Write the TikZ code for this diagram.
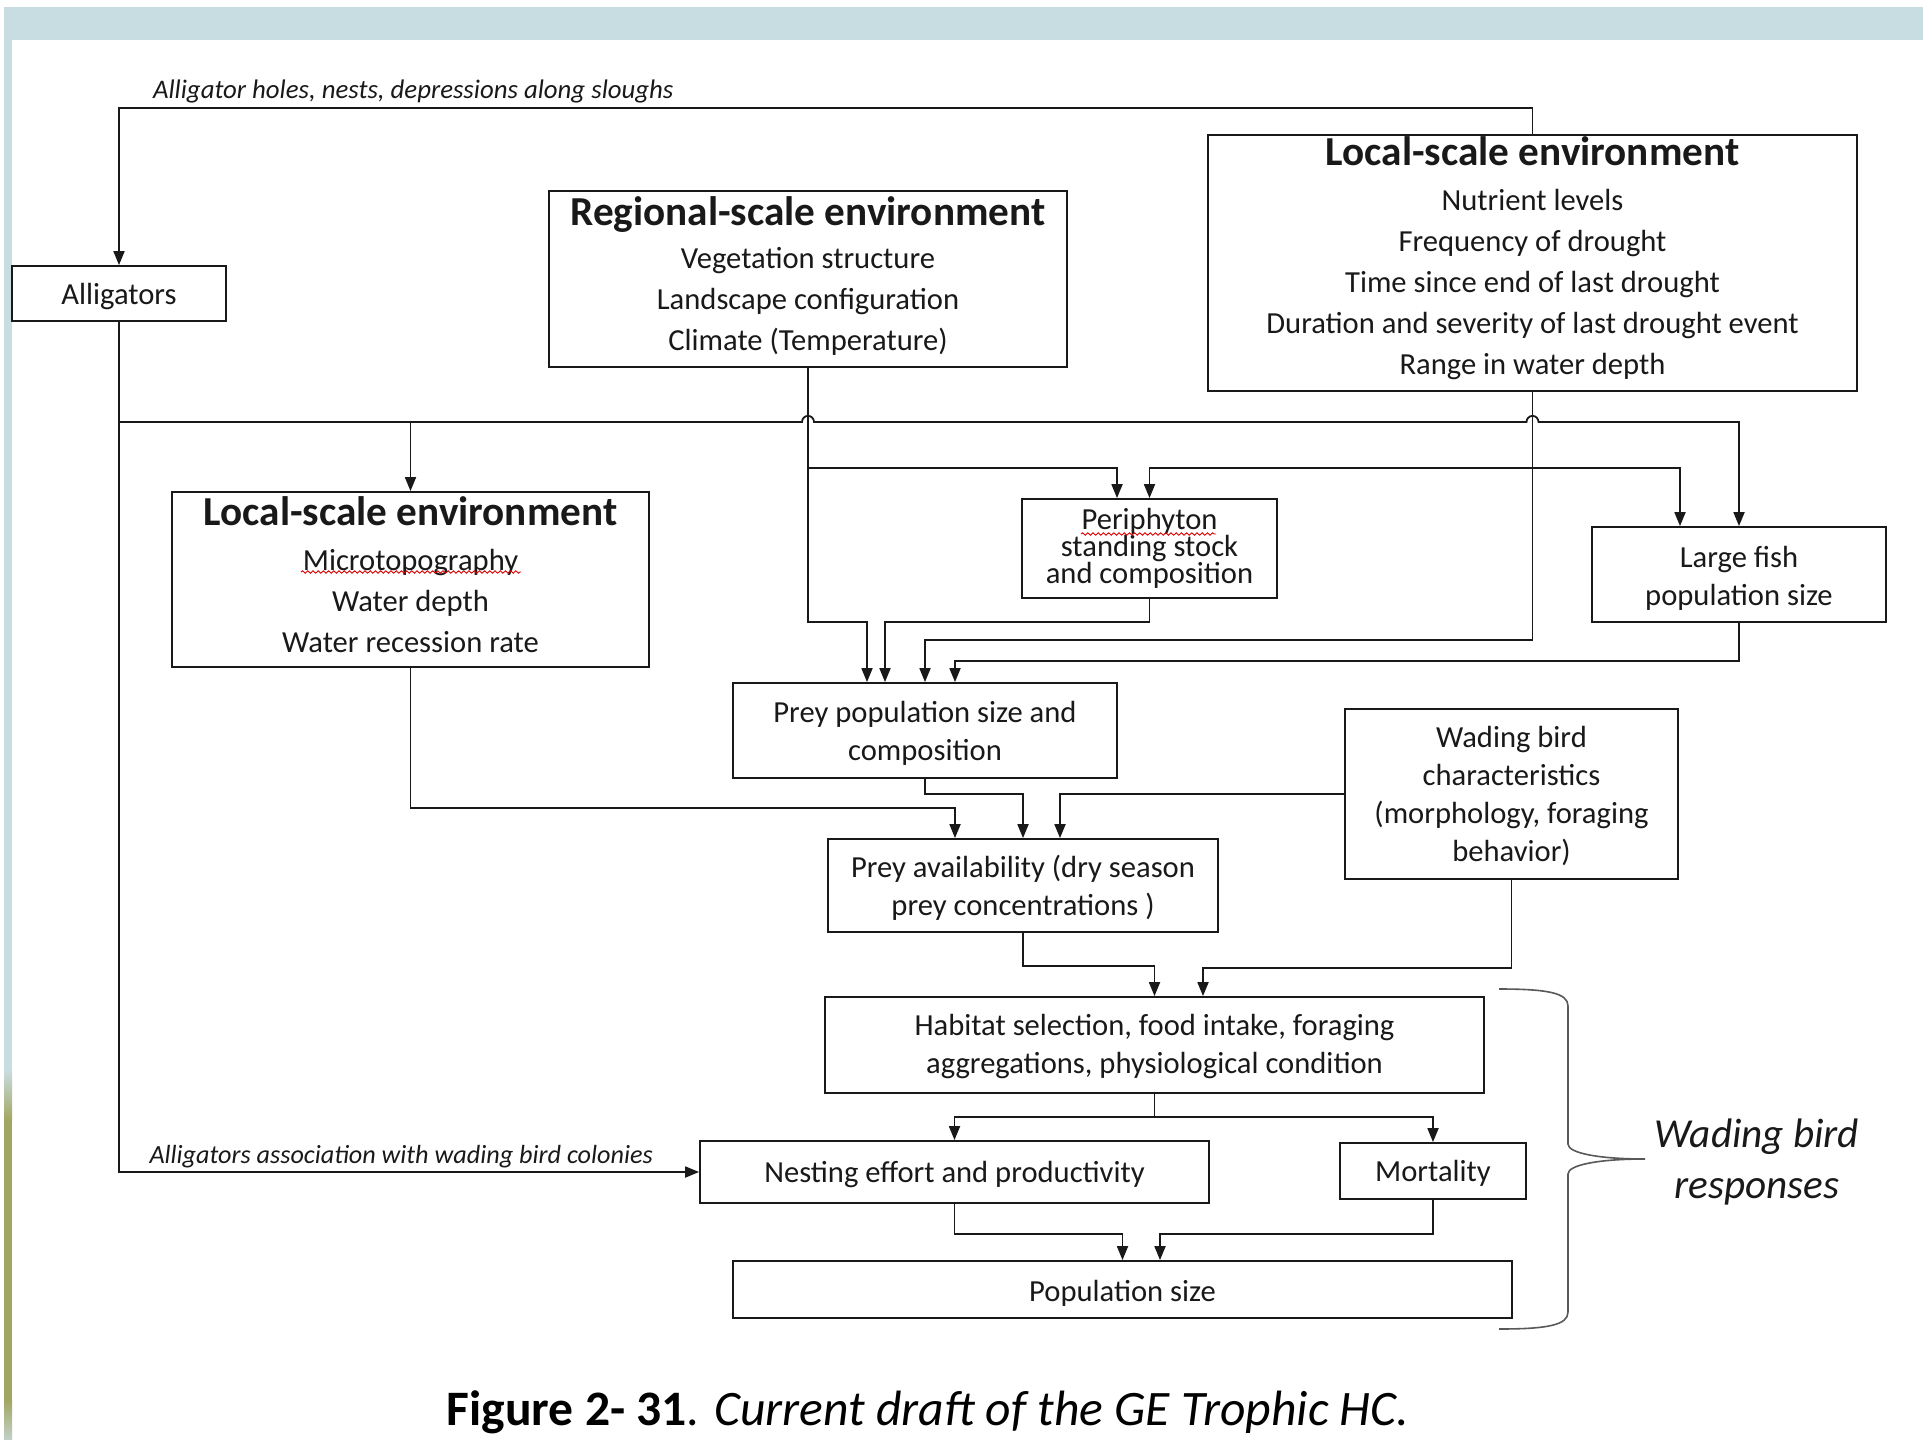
\documentclass[tikz,border=0pt]{standalone}
\usepackage{fontspec}
\setmainfont{Carlito}
\usetikzlibrary{arrows.meta,decorations.pathmorphing}

\definecolor{framec}{RGB}{200,221,225}
\definecolor{grassc}{RGB}{163,166,98}
\definecolor{inkc}{RGB}{25,25,25}

\newcommand{\dgbody}{\fontsize{15.3}{20.5}\selectfont}
\newcommand{\dgtight}{\fontsize{15.3}{19}\selectfont}
\newcommand{\dgperi}{\fontsize{15.3}{13.5}\selectfont\lineskiplimit=-20pt\relax\lineskip=0pt\relax}
\newcommand{\dghead}[1]{{\fontsize{20.6}{24}\selectfont\bfseries #1}}
\newcommand{\dgsmall}{\fontsize{13.4}{16}\selectfont\itshape}

\begin{document}
\begin{tikzpicture}[x=0.5pt,y=-0.5pt,
  box/.style={draw=inkc, line width=0.9pt, inner sep=0pt},
  txt/.style={inner sep=0pt, align=center, font=\dgbody, text=inkc},
  link/.style={draw=inkc, line width=0.9pt},
  arr/.style={link, -{Triangle[length=7pt,width=5.5pt]}},
  spell/.style={draw=red!85!black, line width=0.45pt, decorate,
    decoration={snake, amplitude=0.6pt, segment length=2.6pt}},
  brace/.style={draw=black!65, line width=0.8pt}]

% page background and slide frame
\useasboundingbox (0,0) rectangle (1923,1440);
\fill[white] (0,0) rectangle (1923,1440);
\fill[framec] (4,7) rectangle (1923,40);
\fill[framec] (4,40) rectangle (12,1070);
\shade[top color=framec, bottom color=grassc] (4,1070) rectangle (12,1120);
\fill[grassc] (4,1120) rectangle (12,1400);
\shade[top color=grassc, bottom color=framec!80!grassc] (4,1400) rectangle (12,1440);

% boxes
\node[box, minimum width=107pt, minimum height=27.5pt] (allig) at (119,293.5) {};
\node[txt] (alligT) at ([yshift=-1.6pt]allig.center) {Alligators};

\node[box, minimum width=259pt, minimum height=88pt] (reg) at (808,279) {};
\node[txt] (regT) at ([yshift=1.3pt]reg.center)
  {\dghead{Regional-scale environment}\\[1pt]
   Vegetation structure\\ Landscape configuration\\ Climate (Temperature)};

\node[box, minimum width=324.5pt, minimum height=128pt] (locTR) at (1532.5,263) {};
\node[txt] (locTRT) at ([yshift=2.5pt]locTR.center)
  {\dghead{Local-scale environment}\\[1.7pt]
   Nutrient levels\\ Frequency of drought\\ Time since end of last drought\\
   Duration and severity of last drought event\\ Range in water depth};

\node[box, minimum width=238.5pt, minimum height=87.5pt] (locL) at (410.5,579.5) {};
\node[txt] (locLT) at ([yshift=2.5pt]locL.center)
  {\dghead{Local-scale environment}\\[1.7pt]
   Microtopography\\ Water depth\\ Water recession rate};

\node[box, minimum width=127.5pt, minimum height=49.5pt] (peri) at (1149.5,548.5) {};
\node[txt, font=\dgperi] (periT) at ([yshift=0.3pt]peri.center)
  {Periphyton\\ standing stock\\ and composition};

\node[box, minimum width=147pt, minimum height=47.5pt] (fish) at (1739,574.5) {};
\node[txt, font=\dgtight] (fishT) at ([yshift=-1.8pt]fish.center)
  {Large fish\\ population size};

\node[box, minimum width=192pt, minimum height=47.5pt] (prey) at (925,730.5) {};
\node[txt, font=\dgtight] (preyT) at ([yshift=-1.2pt]prey.center)
  {Prey population size and\\ composition};

\node[box, minimum width=166.5pt, minimum height=85pt] (wad) at (1511.5,794) {};
\node[txt, font=\dgtight] (wadT) at ([yshift=-1.2pt]wad.center)
  {Wading bird\\ characteristics\\ (morphology, foraging\\ behavior)};

\node[box, minimum width=195pt, minimum height=46.5pt] (avail) at (1023,885.5) {};
\node[txt, font=\dgtight] (availT) at ([yshift=-1.2pt]avail.center)
  {Prey availability (dry season\\ prey concentrations )};

\node[box, minimum width=329.5pt, minimum height=48pt] (hab) at (1154.5,1045) {};
\node[txt, font=\dgtight] (habT) at ([yshift=-0.6pt]hab.center)
  {Habitat selection, food intake, foraging\\ aggregations, physiological condition};

\node[box, minimum width=254.5pt, minimum height=31pt] (nest) at (954.5,1172) {};
\node[txt] (nestT) at ([yshift=-1.2pt]nest.center) {Nesting effort and productivity};

\node[box, minimum width=93pt, minimum height=28pt] (mort) at (1433,1171) {};
\node[txt] (mortT) at ([yshift=-1.2pt]mort.center) {Mortality};

\node[box, minimum width=389.5pt, minimum height=28.5pt] (pop) at (1122.5,1289.5) {};
\node[txt] (popT) at ([yshift=-1.8pt]pop.center) {Population size};

% spelling marks under two words
\draw[spell] (1081,534) -- (1216,534);
\draw[spell] (301,572) -- (521,572);

% labels
\node[anchor=west, font=\dgsmall, text=inkc] (holes) at (146,91)
  {Alligator holes, nests, depressions along sloughs};
\node[anchor=east, font=\fontsize{13.1}{16}\selectfont\itshape, text=inkc] (assoc) at (660,1157)
  {Alligators association with wading bird colonies};

% helper points
\coordinate (hub) at ([yshift=-50pt]allig.south);
\coordinate (xA) at (hub -| reg.south);
\coordinate (xB) at (hub -| locTR.south);
\coordinate (rb) at ([yshift=-50pt]reg.south);
\coordinate (lb) at (rb -| locTR.south);

% alligators: habitat feedback loop and colony association
\draw[arr] (locTR.north) -- ++(0,-26) -| (allig.north);
\draw[arr] (allig.south) |- (nest.west);

% main distribution line with jumps over the crossing verticals
\draw[arr] (hub) -- ([xshift=-3pt]xA) arc[start angle=180,end angle=0,radius=3pt]
  -- ([xshift=-3pt]xB) arc[start angle=180,end angle=0,radius=3pt] -| (fish.north);
\draw[arr] (hub -| locL.north) -- (locL.north);

% regional-scale environment
\draw[arr] (reg.south) -- ++(0,254) -| ([xshift=-29pt]prey.north);
\draw[arr] (rb) -| ([xshift=-16.25pt]peri.north);

% local-scale environment (top right)
\draw[arr] (locTR.south) -- ++(0,248) -| (prey.north);
\draw[arr] (lb) -| (peri.north);
\draw[arr] (lb) -| ([xshift=-29.5pt]fish.north);

% periphyton and large fish to prey population
\draw[arr] (peri.south) -- ++(0,23) -| ([xshift=-20pt]prey.north);
\draw[arr] (fish.south) -- ++(0,38) -| ([xshift=15pt]prey.north);

% to prey availability
\draw[arr] (locL.south) -- ++(0,140) -| ([xshift=-34pt]avail.north);
\draw[arr] (prey.south) -- ++(0,15) -| (avail.north);
\draw[arr] (wad.west) -| ([xshift=18.5pt]avail.north);

% to habitat selection
\draw[arr] (avail.south) -- ++(0,33) -| (hab.north);
\draw[arr] (wad.south) -- ++(0,88) -| ([xshift=24.25pt]hab.north);

% responses
\draw[arr] (hab.south) -- ++(0,23) -| (nest.north);
\draw[arr] (hab.south) -- ++(0,23) -| (mort.north);
\draw[arr] (nest.south) -- ++(0,30) -| (pop.north);
\draw[arr] (mort.south) -- ++(0,34) -| ([xshift=18.75pt]pop.north);

% brace grouping the wading bird responses
\coordinate (bt) at (1499,989);
\coordinate (bm) at (1645,1159);
\coordinate (bb) at (1499,1329);
\draw[brace] (bt) .. controls (1548,989) and (1568,993) .. (1568,1006)
  -- (1568,1144) .. controls (1568,1153) and (1598,1159) .. (bm)
  .. controls (1598,1159) and (1568,1165) .. (1568,1174)
  -- (1568,1312) .. controls (1568,1325) and (1548,1329) .. (bb);
\node[align=center, font=\fontsize{20.6}{25.5}\selectfont\itshape, text=inkc] (resp) at (1757,1162)
  {Wading bird\\ responses};

% caption
\node[font=\fontsize{24.8}{28}\selectfont, text=black] (cap) at (928,1412)
  {\textbf{Figure 2- 31}. \textit{Current draft of the GE Trophic HC.}};

\end{tikzpicture}
\end{document}
